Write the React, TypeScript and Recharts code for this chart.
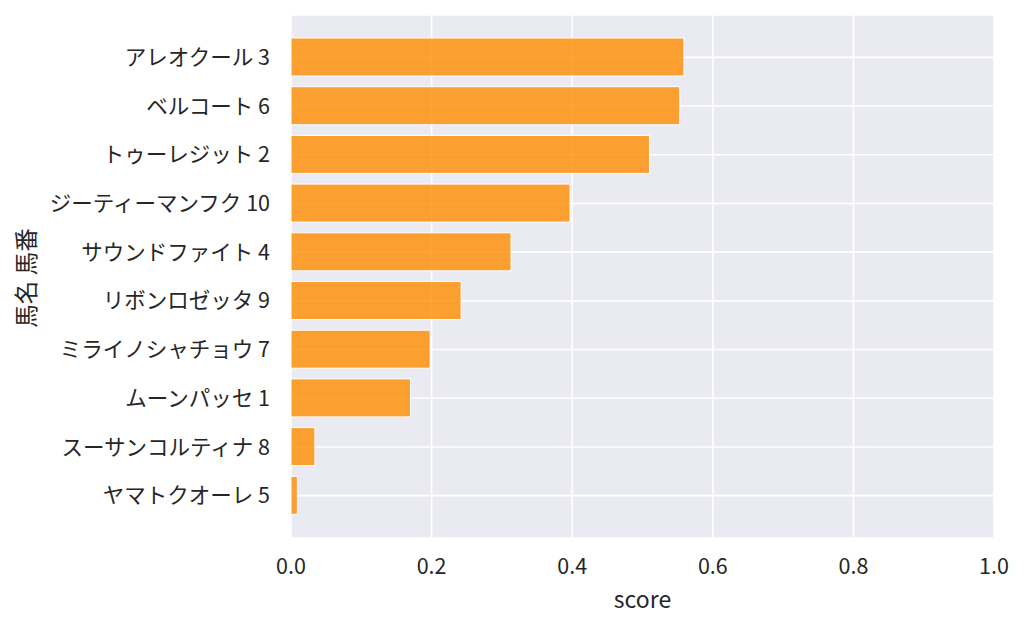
import React from "react";
import { BarChart, Bar, XAxis, YAxis, CartesianGrid } from "recharts";

// horse "name number" labels, top to bottom
const horses = [
  "アレオクール 3",
  "ベルコート 6",
  "トゥーレジット 2",
  "ジーティーマンフク 10",
  "サウンドファイト 4",
  "リボンロゼッタ 9",
  "ミライノシャチョウ 7",
  "ムーンパッセ 1",
  "スーサンコルティナ 8",
  "ヤマトクオーレ 5",
];

const scores = [0.559, 0.553, 0.51, 0.397, 0.313, 0.242, 0.198, 0.17, 0.034, 0.009];

const xTicks = [0, 0.2, 0.4, 0.6, 0.8, 1.0];

const data = horses.map((name, i) => ({ name, score: scores[i] }));

const FONT = '"Noto Sans CJK JP", "Noto Sans", sans-serif';
const INK = "#262626";

function YTitle() {
  return (
    <text
      x={25}
      y={278}
      transform="rotate(-90 25 278)"
      textAnchor="middle"
      dominantBaseline="central"
      fontSize={23.5}
      fill={INK}
      fontFamily={FONT}
    >
      馬名 馬番
    </text>
  );
}

export default function App() {
  return (
    <div style={{ position: "absolute", left: 0, top: 0, width: 1024, height: 627, background: "#fff" }}>
      <BarChart
        width={1024}
        height={627}
        data={data}
        layout="vertical"
        margin={{ top: 15, right: 30, bottom: 0, left: 0 }}
        style={{ fontFamily: FONT }}
      >
        <CartesianGrid fill="#EAEAF2" stroke="#ffffff" strokeWidth={1.6} />
        <XAxis
          type="number"
          domain={[0, 1]}
          ticks={xTicks}
          tickFormatter={(v: number) => v.toFixed(1)}
          axisLine={false}
          tickLine={false}
          tickMargin={15}
          height={89}
          tick={{ fontSize: 21.5, fill: INK, fontFamily: FONT }}
          label={{ value: "score", position: "insideBottom", offset: 19, fontSize: 23, fill: INK, fontFamily: FONT }}
        />
        <YAxis
          type="category"
          dataKey="name"
          width={291}
          axisLine={false}
          tickLine={false}
          tickMargin={15}
          padding={{ top: 18, bottom: 18 }}
          interval={0}
          tick={{ fontSize: 21.5, fill: INK, fontFamily: FONT }}
          label={{ content: () => <YTitle /> }}
        />
        <Bar
          dataKey="score"
          fill="#FF8C00"
          fillOpacity={0.8}
          stroke="#ffffff"
          strokeWidth={1}
          barSize={38}
          isAnimationActive={false}
        />
      </BarChart>
    </div>
  );
}
